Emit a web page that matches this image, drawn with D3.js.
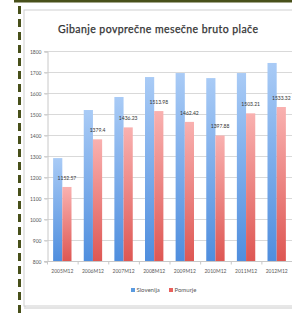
<!DOCTYPE html>
<html>
<head>
<meta charset="utf-8">
<script src="https://cdn.jsdelivr.net/npm/d3@7"></script>
<style>
  body { margin: 0; background: #fff; }
  svg { display: block; }
</style>
</head>
<body>
<script>
// data
let categories = ["2005M12", "2006M12", "2007M12", "2008M12", "2009M12", "2010M12", "2011M12", "2012M12"];
let slovenija = [1290, 1519, 1581, 1676, 1695, 1671, 1695, 1743];
let pomurje = [1152.57, 1379.4, 1436.23, 1513.98, 1462.42, 1397.88, 1503.21, 1533.32];
let seriesNames = ["Slovenija", "Pomurje"];
let yTicks = [800, 900, 1000, 1100, 1200, 1300, 1400, 1500, 1600, 1700, 1800];

let W = 292, H = 314;
let svg = d3.select("body").append("svg").attr("width", W).attr("height", H);

let defs = svg.append("defs");
function grad(id, top, bottom)
{
    let g = defs.append("linearGradient").attr("id", id)
        .attr("x1", 0).attr("y1", 0).attr("x2", 0).attr("y2", 1);
    g.append("stop").attr("offset", "0%").attr("stop-color", top);
    g.append("stop").attr("offset", "100%").attr("stop-color", bottom);
}
grad("gBlue", "#a9cbf6", "#4f8ede");
grad("gRed", "#f9b1b0", "#de5753");

// page decoration: top rule and dashed left rule
svg.append("rect").attr("x", 14).attr("y", 0).attr("width", W - 14).attr("height", 2.5).attr("fill", "#48501a");
svg.append("line").attr("x1", 19.5).attr("x2", 19.5).attr("y1", 6).attr("y2", H)
    .attr("stroke", "#48501a").attr("stroke-width", 3).attr("stroke-dasharray", "8,5");

// chart box with soft shadow
svg.append("rect").attr("x", 25).attr("y", 11).attr("width", W).attr("height", 297)
    .attr("fill", "none").attr("stroke", "#e4e4e4").attr("stroke-width", 2);
svg.append("rect").attr("x", 24).attr("y", 10).attr("width", W).attr("height", 296)
    .attr("fill", "#fff").attr("stroke", "#cfcfcf").attr("stroke-width", 1);

svg.append("text").attr("x", 158).attr("y", 33).attr("text-anchor", "middle")
    .attr("font-family", "Lato, sans-serif").attr("font-size", 10.5)
    .attr("fill", "#333").attr("stroke", "#333").attr("stroke-width", 0.25).attr("textLength", 200)
    .text("Gibanje povprečne mesečne bruto plače");

let x = d3.scaleBand().domain(categories).range([47, 292]).paddingInner(0.4).paddingOuter(0.2);
let y = d3.scaleLinear().domain([800, 1800]).range([261, 51]);

// gridlines
svg.append("g").selectAll("line").data(yTicks).enter().append("line")
    .attr("x1", 44).attr("x2", W)
    .attr("y1", d => y(d) + 0.5).attr("y2", d => y(d) + 0.5)
    .attr("stroke", "#d9d9d9").attr("stroke-width", 1);

let yAxis = svg.append("g").attr("transform", "translate(47.5,0.5)")
    .call(d3.axisLeft(y).tickValues(yTicks).tickSize(3).tickPadding(3).tickFormat(d3.format("d")));
yAxis.select(".domain").attr("stroke", "#c8c8c8");
yAxis.selectAll(".tick line").attr("stroke", "#c8c8c8");
yAxis.selectAll("text").attr("font-family", "Lato, sans-serif").attr("font-size", 5).attr("fill", "#595959");

let step = x.step();
let groups = svg.append("g").selectAll("g").data(categories).enter().append("g");
let bw = x.bandwidth() / 2;

groups.append("rect")
    .attr("x", d => x(d))
    .attr("y", (d, i) => y(slovenija[i]))
    .attr("width", bw)
    .attr("height", (d, i) => y(800) - y(slovenija[i]))
    .attr("fill", "url(#gBlue)");

groups.append("rect")
    .attr("x", d => x(d) + bw)
    .attr("y", (d, i) => y(pomurje[i]))
    .attr("width", bw)
    .attr("height", (d, i) => y(800) - y(pomurje[i]))
    .attr("fill", "url(#gRed)");

groups.append("text")
    .attr("x", d => x(d) + bw * 1.5)
    .attr("y", (d, i) => y(pomurje[i]) - 7)
    .attr("text-anchor", "middle")
    .attr("font-family", "Lato, sans-serif").attr("font-size", 5).attr("fill", "#333")
    .text((d, i) => pomurje[i].toFixed(2).replace(/0$/, ""));

// x axis
let xAxis = svg.append("g").attr("transform", "translate(0," + (y(800) + 0.5) + ")");
xAxis.append("line").attr("x1", 44).attr("x2", W).attr("stroke", "#c8c8c8");
xAxis.selectAll("line.t").data(d3.range(categories.length + 1)).enter().append("line")
    .attr("x1", i => 47.5 + i * step).attr("x2", i => 47.5 + i * step)
    .attr("y1", 0).attr("y2", 3).attr("stroke", "#c8c8c8");
xAxis.selectAll("text").data(categories).enter().append("text")
    .attr("x", d => x(d) + x.bandwidth() / 2)
    .attr("y", 11)
    .attr("text-anchor", "middle")
    .attr("font-family", "Lato, sans-serif").attr("font-size", 5).attr("fill", "#595959")
    .text(d => d);

// legend
let legend = svg.append("g").attr("transform", "translate(131,292)");
let lx = [0, 38];
let lcol = ["#5b9be0", "#e8605c"];
seriesNames.forEach(function(name, i)
{
    legend.append("rect").attr("x", lx[i]).attr("y", -4).attr("width", 4).attr("height", 4).attr("fill", lcol[i]);
    legend.append("text").attr("x", lx[i] + 5.5).attr("y", 0)
        .attr("font-family", "Lato, sans-serif").attr("font-size", 6).attr("fill", "#595959")
        .text(name);
});
</script>
</body>
</html>
